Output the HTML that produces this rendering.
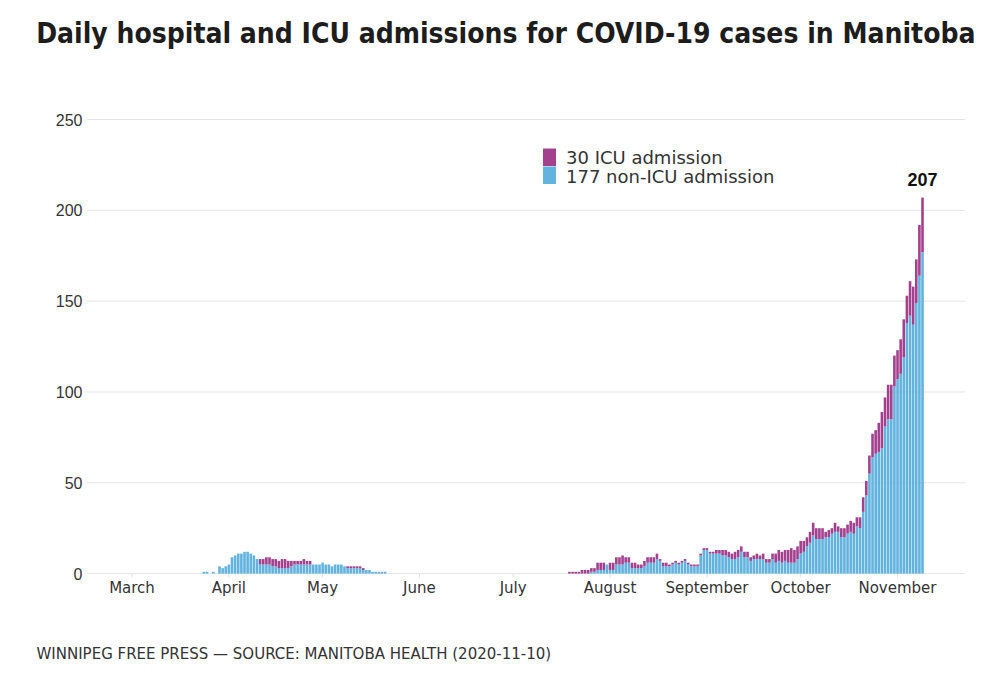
<!DOCTYPE html>
<html><head><meta charset="utf-8"><title>Daily hospital and ICU admissions for COVID-19 cases in Manitoba</title>
<style>
html,body{margin:0;padding:0;background:#fff;}
body{width:1000px;height:692px;position:relative;overflow:hidden;}
svg{position:absolute;left:0;top:0;display:block;}
text{font-family:"DejaVu Sans","Liberation Sans",sans-serif;}
.t{font-family:"DejaVu Sans Condensed","DejaVu Sans","Liberation Sans",sans-serif;font-weight:bold;font-size:28px;fill:#1d1d1d;}
.yl text{font-family:"Liberation Sans",sans-serif;font-size:16px;fill:#333;}
.xl text{font-size:15px;fill:#333;}
.lg{font-size:18px;fill:#333;}
.ann{font-family:"Liberation Sans",sans-serif;font-weight:bold;font-size:18px;fill:#111;}
.src{font-size:15px;fill:#333;}
</style></head><body>
<svg width="1000" height="692" viewBox="0 0 1000 692">
<g stroke="#e4e4e4" stroke-width="1"><line x1="87" x2="965" y1="573.60" y2="573.60"/><line x1="87" x2="965" y1="482.79" y2="482.79"/><line x1="87" x2="965" y1="391.97" y2="391.97"/><line x1="87" x2="965" y1="301.16" y2="301.16"/><line x1="87" x2="965" y1="210.34" y2="210.34"/><line x1="87" x2="965" y1="119.53" y2="119.53"/></g>
<g stroke="#e0e0e0" stroke-width="1"><line x1="132.00" x2="132.00" y1="574" y2="577.5"/><line x1="228.86" x2="228.86" y1="574" y2="577.5"/><line x1="322.59" x2="322.59" y1="574" y2="577.5"/><line x1="419.45" x2="419.45" y1="574" y2="577.5"/><line x1="513.19" x2="513.19" y1="574" y2="577.5"/><line x1="610.05" x2="610.05" y1="574" y2="577.5"/><line x1="706.91" x2="706.91" y1="574" y2="577.5"/><line x1="800.64" x2="800.64" y1="574" y2="577.5"/><line x1="897.50" x2="897.50" y1="574" y2="577.5"/></g>
<g fill="#62b3de"><rect x="202.59" y="571.78" width="2.6" height="1.82"/><rect x="205.71" y="571.78" width="2.6" height="1.82"/><rect x="211.96" y="571.78" width="2.6" height="1.82"/><rect x="218.21" y="566.33" width="2.6" height="7.27"/><rect x="221.33" y="568.15" width="2.6" height="5.45"/><rect x="224.46" y="566.33" width="2.6" height="7.27"/><rect x="227.58" y="564.52" width="2.6" height="9.08"/><rect x="230.71" y="557.25" width="2.6" height="16.35"/><rect x="233.83" y="555.44" width="2.6" height="18.16"/><rect x="236.96" y="553.62" width="2.6" height="19.98"/><rect x="240.08" y="553.62" width="2.6" height="19.98"/><rect x="243.21" y="551.80" width="2.6" height="21.80"/><rect x="246.33" y="551.80" width="2.6" height="21.80"/><rect x="249.46" y="553.62" width="2.6" height="19.98"/><rect x="252.58" y="555.44" width="2.6" height="18.16"/><rect x="255.70" y="559.07" width="2.6" height="14.53"/><rect x="258.83" y="564.52" width="2.6" height="9.08"/><rect x="261.95" y="564.52" width="2.6" height="9.08"/><rect x="265.08" y="564.52" width="2.6" height="9.08"/><rect x="268.20" y="564.52" width="2.6" height="9.08"/><rect x="271.33" y="566.33" width="2.6" height="7.27"/><rect x="274.45" y="566.33" width="2.6" height="7.27"/><rect x="277.58" y="568.15" width="2.6" height="5.45"/><rect x="280.70" y="568.15" width="2.6" height="5.45"/><rect x="283.82" y="568.15" width="2.6" height="5.45"/><rect x="286.95" y="568.15" width="2.6" height="5.45"/><rect x="290.07" y="566.33" width="2.6" height="7.27"/><rect x="293.20" y="564.52" width="2.6" height="9.08"/><rect x="296.32" y="564.52" width="2.6" height="9.08"/><rect x="299.45" y="564.52" width="2.6" height="9.08"/><rect x="302.57" y="564.52" width="2.6" height="9.08"/><rect x="305.70" y="564.52" width="2.6" height="9.08"/><rect x="308.82" y="564.52" width="2.6" height="9.08"/><rect x="311.95" y="564.52" width="2.6" height="9.08"/><rect x="315.07" y="564.52" width="2.6" height="9.08"/><rect x="318.19" y="564.52" width="2.6" height="9.08"/><rect x="321.32" y="562.70" width="2.6" height="10.90"/><rect x="324.44" y="564.52" width="2.6" height="9.08"/><rect x="327.57" y="564.52" width="2.6" height="9.08"/><rect x="330.69" y="566.33" width="2.6" height="7.27"/><rect x="333.82" y="564.52" width="2.6" height="9.08"/><rect x="336.94" y="564.52" width="2.6" height="9.08"/><rect x="340.07" y="564.52" width="2.6" height="9.08"/><rect x="343.19" y="566.33" width="2.6" height="7.27"/><rect x="346.31" y="568.15" width="2.6" height="5.45"/><rect x="349.44" y="568.15" width="2.6" height="5.45"/><rect x="352.56" y="568.15" width="2.6" height="5.45"/><rect x="355.69" y="568.15" width="2.6" height="5.45"/><rect x="358.81" y="568.15" width="2.6" height="5.45"/><rect x="361.94" y="569.97" width="2.6" height="3.63"/><rect x="365.06" y="569.97" width="2.6" height="3.63"/><rect x="368.19" y="569.97" width="2.6" height="3.63"/><rect x="371.31" y="571.78" width="2.6" height="1.82"/><rect x="374.44" y="571.78" width="2.6" height="1.82"/><rect x="377.56" y="571.78" width="2.6" height="1.82"/><rect x="380.68" y="571.78" width="2.6" height="1.82"/><rect x="383.81" y="571.78" width="2.6" height="1.82"/><rect x="590.03" y="571.78" width="2.6" height="1.82"/><rect x="593.15" y="571.78" width="2.6" height="1.82"/><rect x="596.27" y="569.97" width="2.6" height="3.63"/><rect x="599.40" y="569.97" width="2.6" height="3.63"/><rect x="602.52" y="569.97" width="2.6" height="3.63"/><rect x="605.65" y="564.52" width="2.6" height="9.08"/><rect x="608.77" y="569.97" width="2.6" height="3.63"/><rect x="611.90" y="569.97" width="2.6" height="3.63"/><rect x="615.02" y="564.52" width="2.6" height="9.08"/><rect x="618.15" y="564.52" width="2.6" height="9.08"/><rect x="621.27" y="564.52" width="2.6" height="9.08"/><rect x="624.40" y="562.70" width="2.6" height="10.90"/><rect x="627.52" y="562.70" width="2.6" height="10.90"/><rect x="630.64" y="568.15" width="2.6" height="5.45"/><rect x="633.77" y="568.15" width="2.6" height="5.45"/><rect x="636.89" y="568.15" width="2.6" height="5.45"/><rect x="640.02" y="568.15" width="2.6" height="5.45"/><rect x="643.14" y="566.33" width="2.6" height="7.27"/><rect x="646.27" y="562.70" width="2.6" height="10.90"/><rect x="649.39" y="562.70" width="2.6" height="10.90"/><rect x="652.52" y="562.70" width="2.6" height="10.90"/><rect x="655.64" y="559.07" width="2.6" height="14.53"/><rect x="658.76" y="560.89" width="2.6" height="12.71"/><rect x="661.89" y="566.33" width="2.6" height="7.27"/><rect x="665.01" y="566.33" width="2.6" height="7.27"/><rect x="668.14" y="566.33" width="2.6" height="7.27"/><rect x="671.26" y="564.52" width="2.6" height="9.08"/><rect x="674.39" y="562.70" width="2.6" height="10.90"/><rect x="677.51" y="564.52" width="2.6" height="9.08"/><rect x="680.64" y="562.70" width="2.6" height="10.90"/><rect x="683.76" y="560.89" width="2.6" height="12.71"/><rect x="686.89" y="564.52" width="2.6" height="9.08"/><rect x="690.01" y="566.33" width="2.6" height="7.27"/><rect x="693.13" y="566.33" width="2.6" height="7.27"/><rect x="696.26" y="566.33" width="2.6" height="7.27"/><rect x="699.38" y="555.44" width="2.6" height="18.16"/><rect x="702.51" y="549.99" width="2.6" height="23.61"/><rect x="705.63" y="549.99" width="2.6" height="23.61"/><rect x="708.76" y="553.62" width="2.6" height="19.98"/><rect x="711.88" y="553.62" width="2.6" height="19.98"/><rect x="715.01" y="553.62" width="2.6" height="19.98"/><rect x="718.13" y="553.62" width="2.6" height="19.98"/><rect x="721.25" y="555.44" width="2.6" height="18.16"/><rect x="724.38" y="555.44" width="2.6" height="18.16"/><rect x="727.50" y="557.25" width="2.6" height="16.35"/><rect x="730.63" y="559.07" width="2.6" height="14.53"/><rect x="733.75" y="559.07" width="2.6" height="14.53"/><rect x="736.88" y="557.25" width="2.6" height="16.35"/><rect x="740.00" y="551.80" width="2.6" height="21.80"/><rect x="743.13" y="557.25" width="2.6" height="16.35"/><rect x="746.25" y="557.25" width="2.6" height="16.35"/><rect x="749.38" y="560.89" width="2.6" height="12.71"/><rect x="752.50" y="559.07" width="2.6" height="14.53"/><rect x="755.62" y="559.07" width="2.6" height="14.53"/><rect x="758.75" y="559.07" width="2.6" height="14.53"/><rect x="761.87" y="559.07" width="2.6" height="14.53"/><rect x="765.00" y="562.70" width="2.6" height="10.90"/><rect x="768.12" y="562.70" width="2.6" height="10.90"/><rect x="771.25" y="559.07" width="2.6" height="14.53"/><rect x="774.37" y="562.70" width="2.6" height="10.90"/><rect x="777.50" y="560.89" width="2.6" height="12.71"/><rect x="780.62" y="562.70" width="2.6" height="10.90"/><rect x="783.75" y="560.89" width="2.6" height="12.71"/><rect x="786.87" y="562.70" width="2.6" height="10.90"/><rect x="789.99" y="562.70" width="2.6" height="10.90"/><rect x="793.12" y="562.70" width="2.6" height="10.90"/><rect x="796.24" y="559.07" width="2.6" height="14.53"/><rect x="799.37" y="553.62" width="2.6" height="19.98"/><rect x="802.49" y="551.80" width="2.6" height="21.80"/><rect x="805.62" y="546.36" width="2.6" height="27.24"/><rect x="808.74" y="542.72" width="2.6" height="30.88"/><rect x="811.87" y="535.46" width="2.6" height="38.14"/><rect x="814.99" y="539.09" width="2.6" height="34.51"/><rect x="818.11" y="539.09" width="2.6" height="34.51"/><rect x="821.24" y="539.09" width="2.6" height="34.51"/><rect x="824.36" y="537.27" width="2.6" height="36.33"/><rect x="827.49" y="537.27" width="2.6" height="36.33"/><rect x="830.61" y="533.64" width="2.6" height="39.96"/><rect x="833.74" y="531.83" width="2.6" height="41.77"/><rect x="836.86" y="531.83" width="2.6" height="41.77"/><rect x="839.99" y="537.27" width="2.6" height="36.33"/><rect x="843.11" y="537.27" width="2.6" height="36.33"/><rect x="846.24" y="533.64" width="2.6" height="39.96"/><rect x="849.36" y="531.83" width="2.6" height="41.77"/><rect x="852.48" y="533.64" width="2.6" height="39.96"/><rect x="855.61" y="526.38" width="2.6" height="47.22"/><rect x="858.73" y="528.19" width="2.6" height="45.41"/><rect x="861.86" y="511.85" width="2.6" height="61.75"/><rect x="864.98" y="495.50" width="2.6" height="78.10"/><rect x="868.11" y="473.70" width="2.6" height="99.90"/><rect x="871.23" y="457.36" width="2.6" height="116.24"/><rect x="874.36" y="453.72" width="2.6" height="119.88"/><rect x="877.48" y="451.91" width="2.6" height="121.69"/><rect x="880.60" y="448.28" width="2.6" height="125.32"/><rect x="883.73" y="426.48" width="2.6" height="147.12"/><rect x="886.85" y="419.21" width="2.6" height="154.39"/><rect x="889.98" y="419.21" width="2.6" height="154.39"/><rect x="893.10" y="386.52" width="2.6" height="187.08"/><rect x="896.23" y="379.26" width="2.6" height="194.34"/><rect x="899.35" y="373.81" width="2.6" height="199.79"/><rect x="902.48" y="357.46" width="2.6" height="216.14"/><rect x="905.60" y="322.95" width="2.6" height="250.65"/><rect x="908.73" y="315.69" width="2.6" height="257.91"/><rect x="911.85" y="324.77" width="2.6" height="248.83"/><rect x="914.97" y="302.97" width="2.6" height="270.63"/><rect x="918.10" y="275.73" width="2.6" height="297.87"/><rect x="921.22" y="252.11" width="2.6" height="321.49"/></g>
<g fill="#a3418f"><rect x="258.83" y="559.07" width="2.6" height="5.45"/><rect x="261.95" y="559.07" width="2.6" height="5.45"/><rect x="265.08" y="557.25" width="2.6" height="7.27"/><rect x="268.20" y="557.25" width="2.6" height="7.27"/><rect x="271.33" y="559.07" width="2.6" height="7.27"/><rect x="274.45" y="559.07" width="2.6" height="7.27"/><rect x="277.58" y="560.89" width="2.6" height="7.27"/><rect x="280.70" y="559.07" width="2.6" height="9.08"/><rect x="283.82" y="559.07" width="2.6" height="9.08"/><rect x="286.95" y="560.89" width="2.6" height="7.27"/><rect x="290.07" y="560.89" width="2.6" height="5.45"/><rect x="293.20" y="560.89" width="2.6" height="3.63"/><rect x="296.32" y="560.89" width="2.6" height="3.63"/><rect x="299.45" y="560.89" width="2.6" height="3.63"/><rect x="302.57" y="559.07" width="2.6" height="5.45"/><rect x="305.70" y="560.89" width="2.6" height="3.63"/><rect x="308.82" y="560.89" width="2.6" height="3.63"/><rect x="346.31" y="566.33" width="2.6" height="1.82"/><rect x="349.44" y="566.33" width="2.6" height="1.82"/><rect x="352.56" y="566.33" width="2.6" height="1.82"/><rect x="355.69" y="566.33" width="2.6" height="1.82"/><rect x="358.81" y="566.33" width="2.6" height="1.82"/><rect x="361.94" y="568.15" width="2.6" height="1.82"/><rect x="568.15" y="571.78" width="2.6" height="1.82"/><rect x="571.28" y="571.78" width="2.6" height="1.82"/><rect x="574.40" y="571.78" width="2.6" height="1.82"/><rect x="577.53" y="571.78" width="2.6" height="1.82"/><rect x="580.65" y="569.97" width="2.6" height="3.63"/><rect x="583.78" y="569.97" width="2.6" height="3.63"/><rect x="586.90" y="569.97" width="2.6" height="3.63"/><rect x="590.03" y="568.15" width="2.6" height="3.63"/><rect x="593.15" y="568.15" width="2.6" height="3.63"/><rect x="596.27" y="562.70" width="2.6" height="7.27"/><rect x="599.40" y="562.70" width="2.6" height="7.27"/><rect x="602.52" y="562.70" width="2.6" height="7.27"/><rect x="608.77" y="562.70" width="2.6" height="7.27"/><rect x="611.90" y="562.70" width="2.6" height="7.27"/><rect x="615.02" y="557.25" width="2.6" height="7.27"/><rect x="618.15" y="557.25" width="2.6" height="7.27"/><rect x="621.27" y="555.44" width="2.6" height="9.08"/><rect x="624.40" y="557.25" width="2.6" height="5.45"/><rect x="627.52" y="557.25" width="2.6" height="5.45"/><rect x="630.64" y="562.70" width="2.6" height="5.45"/><rect x="633.77" y="562.70" width="2.6" height="5.45"/><rect x="636.89" y="564.52" width="2.6" height="3.63"/><rect x="640.02" y="564.52" width="2.6" height="3.63"/><rect x="643.14" y="560.89" width="2.6" height="5.45"/><rect x="646.27" y="557.25" width="2.6" height="5.45"/><rect x="649.39" y="557.25" width="2.6" height="5.45"/><rect x="652.52" y="557.25" width="2.6" height="5.45"/><rect x="655.64" y="553.62" width="2.6" height="5.45"/><rect x="658.76" y="559.07" width="2.6" height="1.82"/><rect x="661.89" y="562.70" width="2.6" height="3.63"/><rect x="665.01" y="562.70" width="2.6" height="3.63"/><rect x="668.14" y="564.52" width="2.6" height="1.82"/><rect x="671.26" y="562.70" width="2.6" height="1.82"/><rect x="674.39" y="560.89" width="2.6" height="1.82"/><rect x="677.51" y="562.70" width="2.6" height="1.82"/><rect x="680.64" y="560.89" width="2.6" height="1.82"/><rect x="683.76" y="559.07" width="2.6" height="1.82"/><rect x="686.89" y="562.70" width="2.6" height="1.82"/><rect x="690.01" y="564.52" width="2.6" height="1.82"/><rect x="693.13" y="564.52" width="2.6" height="1.82"/><rect x="696.26" y="564.52" width="2.6" height="1.82"/><rect x="699.38" y="553.62" width="2.6" height="1.82"/><rect x="702.51" y="548.17" width="2.6" height="1.82"/><rect x="705.63" y="548.17" width="2.6" height="1.82"/><rect x="708.76" y="551.80" width="2.6" height="1.82"/><rect x="711.88" y="551.80" width="2.6" height="1.82"/><rect x="715.01" y="549.99" width="2.6" height="3.63"/><rect x="718.13" y="549.99" width="2.6" height="3.63"/><rect x="721.25" y="549.99" width="2.6" height="5.45"/><rect x="724.38" y="549.99" width="2.6" height="5.45"/><rect x="727.50" y="551.80" width="2.6" height="5.45"/><rect x="730.63" y="553.62" width="2.6" height="5.45"/><rect x="733.75" y="551.80" width="2.6" height="7.27"/><rect x="736.88" y="549.99" width="2.6" height="7.27"/><rect x="740.00" y="546.36" width="2.6" height="5.45"/><rect x="743.13" y="551.80" width="2.6" height="5.45"/><rect x="746.25" y="551.80" width="2.6" height="5.45"/><rect x="749.38" y="557.25" width="2.6" height="3.63"/><rect x="752.50" y="555.44" width="2.6" height="3.63"/><rect x="755.62" y="553.62" width="2.6" height="5.45"/><rect x="758.75" y="555.44" width="2.6" height="3.63"/><rect x="761.87" y="553.62" width="2.6" height="5.45"/><rect x="765.00" y="559.07" width="2.6" height="3.63"/><rect x="768.12" y="559.07" width="2.6" height="3.63"/><rect x="771.25" y="553.62" width="2.6" height="5.45"/><rect x="774.37" y="553.62" width="2.6" height="9.08"/><rect x="777.50" y="549.99" width="2.6" height="10.90"/><rect x="780.62" y="551.80" width="2.6" height="10.90"/><rect x="783.75" y="549.99" width="2.6" height="10.90"/><rect x="786.87" y="549.99" width="2.6" height="12.71"/><rect x="789.99" y="548.17" width="2.6" height="14.53"/><rect x="793.12" y="549.99" width="2.6" height="12.71"/><rect x="796.24" y="546.36" width="2.6" height="12.71"/><rect x="799.37" y="540.91" width="2.6" height="12.71"/><rect x="802.49" y="540.91" width="2.6" height="10.90"/><rect x="805.62" y="537.27" width="2.6" height="9.08"/><rect x="808.74" y="531.83" width="2.6" height="10.90"/><rect x="811.87" y="522.74" width="2.6" height="12.71"/><rect x="814.99" y="528.19" width="2.6" height="10.90"/><rect x="818.11" y="528.19" width="2.6" height="10.90"/><rect x="821.24" y="528.19" width="2.6" height="10.90"/><rect x="824.36" y="531.83" width="2.6" height="5.45"/><rect x="827.49" y="530.01" width="2.6" height="7.27"/><rect x="830.61" y="528.19" width="2.6" height="5.45"/><rect x="833.74" y="522.74" width="2.6" height="9.08"/><rect x="836.86" y="526.38" width="2.6" height="5.45"/><rect x="839.99" y="528.19" width="2.6" height="9.08"/><rect x="843.11" y="528.19" width="2.6" height="9.08"/><rect x="846.24" y="524.56" width="2.6" height="9.08"/><rect x="849.36" y="520.93" width="2.6" height="10.90"/><rect x="852.48" y="522.74" width="2.6" height="10.90"/><rect x="855.61" y="517.29" width="2.6" height="9.08"/><rect x="858.73" y="517.29" width="2.6" height="10.90"/><rect x="861.86" y="497.32" width="2.6" height="14.53"/><rect x="864.98" y="480.97" width="2.6" height="14.53"/><rect x="868.11" y="455.54" width="2.6" height="18.16"/><rect x="871.23" y="433.74" width="2.6" height="23.61"/><rect x="874.36" y="430.11" width="2.6" height="23.61"/><rect x="877.48" y="422.85" width="2.6" height="29.06"/><rect x="880.60" y="411.95" width="2.6" height="36.33"/><rect x="883.73" y="397.42" width="2.6" height="29.06"/><rect x="886.85" y="384.70" width="2.6" height="34.51"/><rect x="889.98" y="384.70" width="2.6" height="34.51"/><rect x="893.10" y="355.64" width="2.6" height="30.88"/><rect x="896.23" y="350.20" width="2.6" height="29.06"/><rect x="899.35" y="339.30" width="2.6" height="34.51"/><rect x="902.48" y="319.32" width="2.6" height="38.14"/><rect x="905.60" y="295.71" width="2.6" height="27.24"/><rect x="908.73" y="281.18" width="2.6" height="34.51"/><rect x="911.85" y="286.62" width="2.6" height="38.14"/><rect x="914.97" y="259.38" width="2.6" height="43.59"/><rect x="918.10" y="224.87" width="2.6" height="50.86"/><rect x="921.22" y="197.63" width="2.6" height="54.49"/></g>
<g class="yl" text-anchor="end"><text x="82.5" y="579.60">0</text><text x="82.5" y="488.79">50</text><text x="82.5" y="397.97">100</text><text x="82.5" y="307.16">150</text><text x="82.5" y="216.34">200</text><text x="82.5" y="125.53">250</text></g>
<g class="xl" text-anchor="middle"><text x="132.00" y="592.5">March</text><text x="228.86" y="592.5">April</text><text x="322.59" y="592.5">May</text><text x="419.45" y="592.5">June</text><text x="513.19" y="592.5">July</text><text x="610.05" y="592.5">August</text><text x="706.91" y="592.5">September</text><text x="800.64" y="592.5">October</text><text x="897.50" y="592.5">November</text></g>
<rect x="543" y="148.5" width="13" height="17.5" fill="#a3418f"/>
<rect x="543" y="166.5" width="13" height="17.5" fill="#62b3de"/>
<text class="lg" x="566" y="164">30 ICU admission</text>
<text class="lg" x="566" y="182.5">177 non-ICU admission</text>
<text class="ann" x="922.5" y="186" text-anchor="middle">207</text>
<text class="t" x="36.2" y="43.3">Daily hospital and ICU admissions for COVID-19 cases in Manitoba</text><text class="src" x="36.5" y="658.5">WINNIPEG FREE PRESS — SOURCE: MANITOBA HEALTH (2020-11-10)</text></svg>
</body></html>
